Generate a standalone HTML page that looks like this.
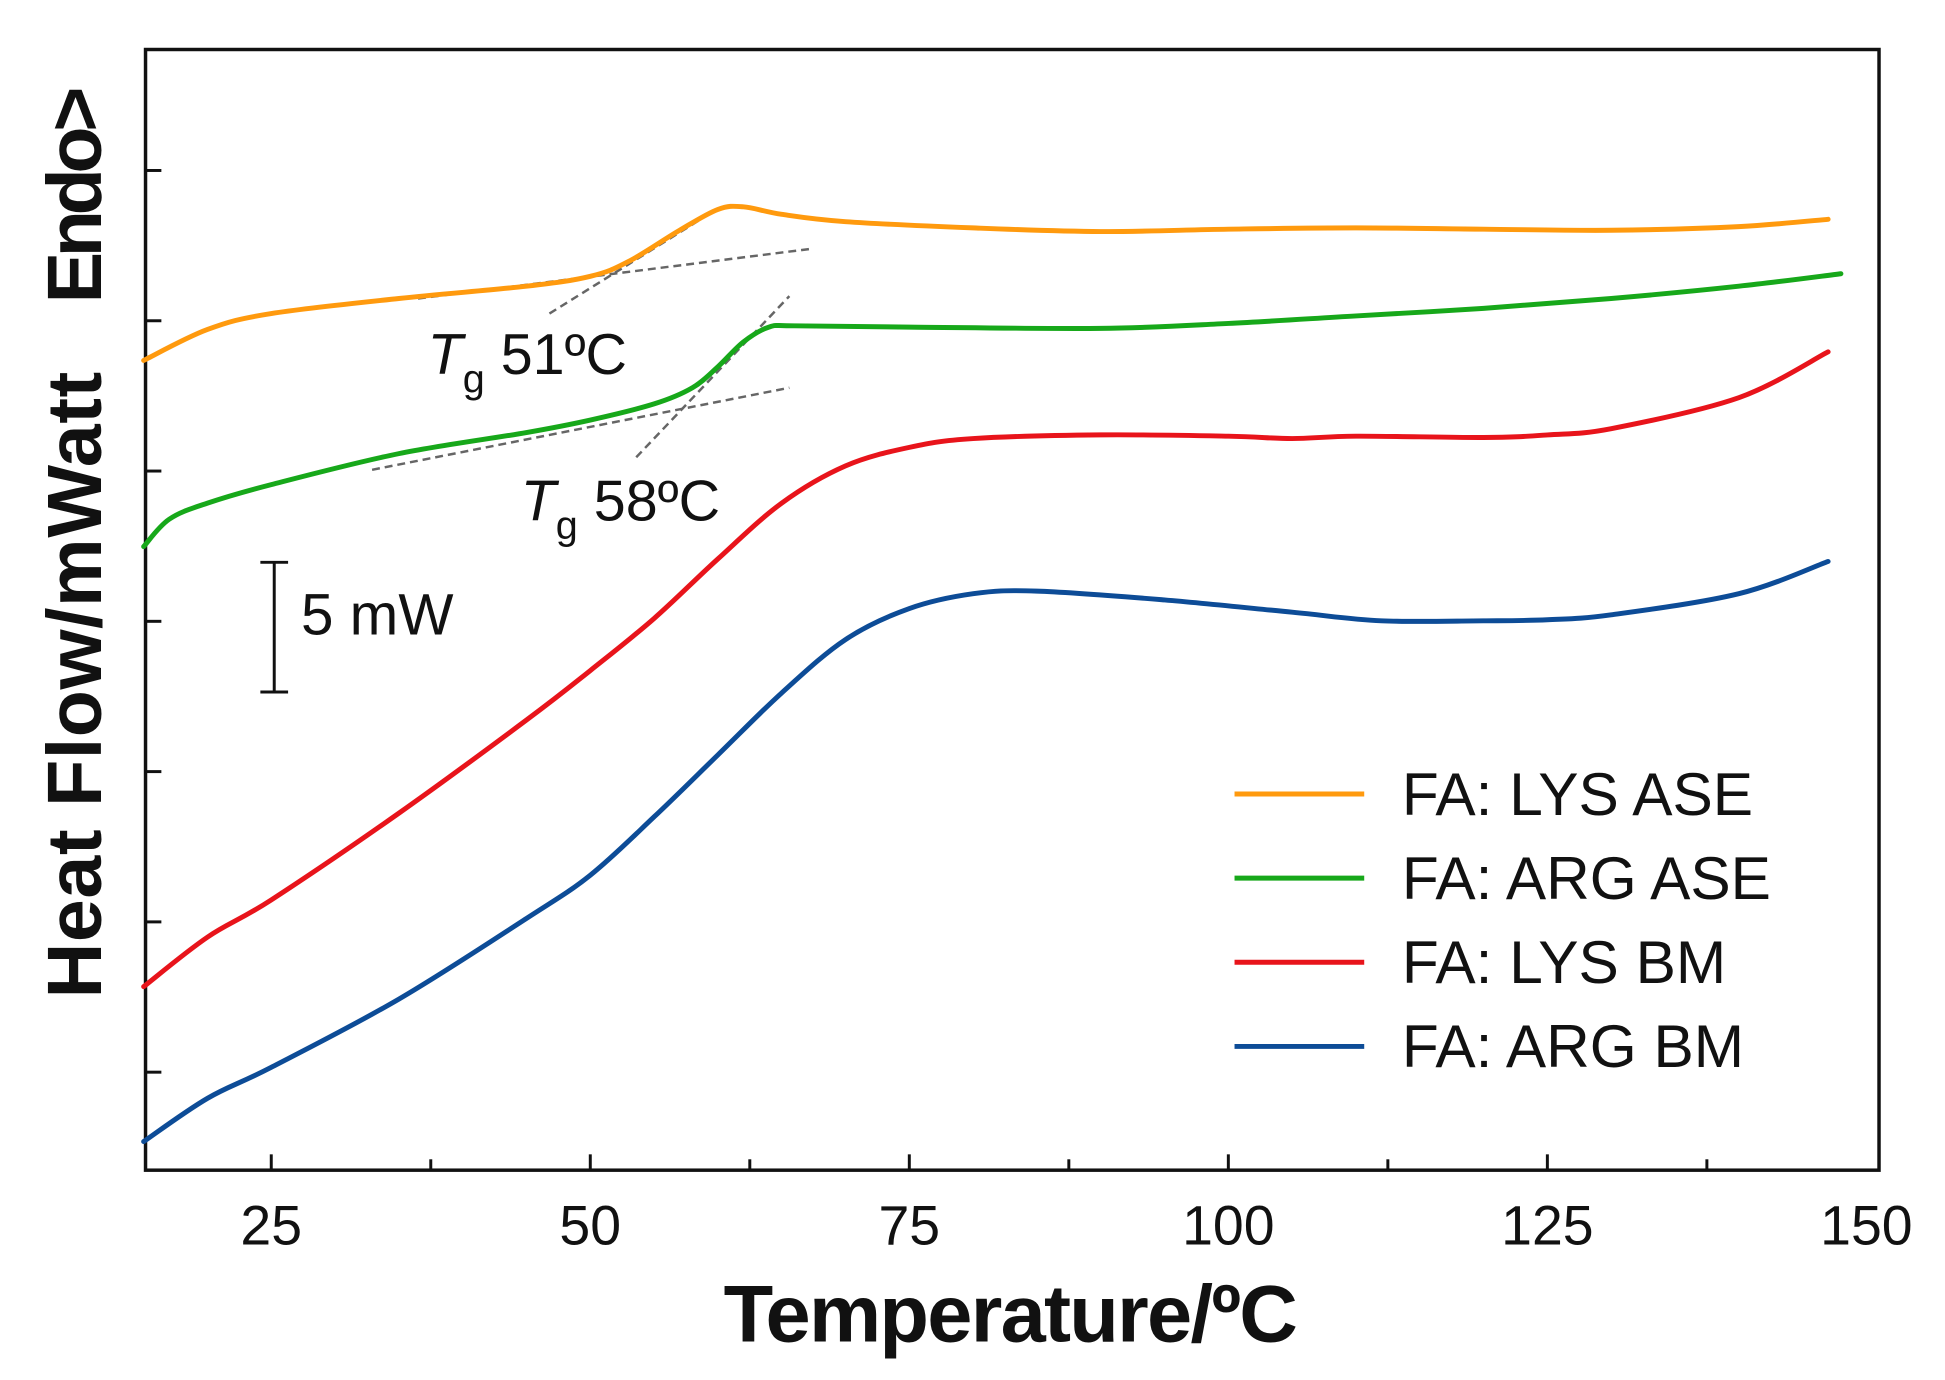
<!DOCTYPE html>
<html><head><meta charset="utf-8"><style>
html,body{margin:0;padding:0;background:#fff;}
svg{display:block;font-family:"Liberation Sans",Arial,sans-serif;}
</style></head><body>
<svg id="chart" width="1945" height="1380" viewBox="0 0 1945 1380"><g id="root" transform="scale(0.99)"></g></svg>
<script>
const xTicks = [25, 50, 75, 100, 125, 150];
const xMinorTicks = [37.5, 62.5, 87.5, 112.5, 137.5];
const seriesNames = ["FA: LYS ASE", "FA: ARG ASE", "FA: LYS BM", "FA: ARG BM"];
const seriesColors = ["#ff9a0e", "#17a81a", "#e8141b", "#0d4c97"];
const lysAseT = [15,20,25,35,45,50,53,57,60,62,65,70,80,90,100,110,120,130,140,147];
const lysAseV = [31.1,32.29,32.9,33.48,33.95,34.33,34.9,36.1,36.9,37.0,36.71,36.43,36.19,36.05,36.14,36.19,36.14,36.1,36.24,36.52];
const argAseT = [15,17,20,25,35,45,50,55,58,60,62,64,66,75,90,100,110,120,130,140,148];
const argAseV = [23.95,25.0,25.62,26.33,27.52,28.33,28.81,29.43,30.05,30.86,31.81,32.38,32.43,32.38,32.33,32.52,32.81,33.1,33.48,33.95,34.43];
const lysBmT = [15,20,25,35,45,50,55,60,65,70,75,80,90,100,105,110,120,125,130,140,147];
const lysBmV = [7.05,8.95,10.38,13.71,17.29,19.19,21.19,23.48,25.62,27.05,27.76,28.1,28.24,28.19,28.1,28.19,28.14,28.24,28.48,29.67,31.43];
const argBmT = [15,20,25,35,45,50,55,60,65,70,75,80,85,95,105,112,120,125,130,140,147];
const argBmV = [1.10,2.76,3.95,6.57,9.67,11.33,13.57,15.95,18.33,20.38,21.57,22.14,22.24,21.9,21.43,21.1,21.1,21.14,21.33,22.14,23.38];
const tangentT = [[36.5,67.2],[46.8,59.6],[32.9,65.6],[53.6,65.6]];
const tangentV = [[33.48,35.38],[32.9,36.81],[26.9,30.05],[27.38,33.57]];

const svg = document.getElementById('root');
const NS = 'http://www.w3.org/2000/svg';
const L = 147, R = 1898, T = 50, B = 1182;
function xs(t){ return 274 + (t - 25) * 12.89; }
function ys(v){ return B - v * 26.3; }
function mk(tag, attrs){ const e = document.createElementNS(NS, tag); for (const k in attrs) e.setAttribute(k, attrs[k]); svg.appendChild(e); return e; }
function smooth(pts){
  let d = 'M' + pts[0][0].toFixed(1) + ',' + pts[0][1].toFixed(1);
  for (let i = 0; i < pts.length - 1; i++) {
    const p0 = pts[i-1] || pts[i], p1 = pts[i], p2 = pts[i+1], p3 = pts[i+2] || p2;
    const c1 = [p1[0] + (p2[0]-p0[0])/6, p1[1] + (p2[1]-p0[1])/6];
    const c2 = [p2[0] - (p3[0]-p1[0])/6, p2[1] - (p3[1]-p1[1])/6];
    d += 'C' + c1[0].toFixed(1)+','+c1[1].toFixed(1)+' '+c2[0].toFixed(1)+','+c2[1].toFixed(1)+' '+p2[0].toFixed(1)+','+p2[1].toFixed(1);
  }
  return d;
}

let e = mk('rect', {x:L, y:T, width:R-L, height:B-T, fill:'none', stroke:'#111', 'stroke-width':3.5});



xTicks.forEach(t => {
  if (t < 150) {
    const tk = mk('line', {x1:xs(t), x2:xs(t), y1:B, y2:B-16, stroke:'#111', 'stroke-width':3});
    
    
  }
  const lb = mk('text', {x:xs(t), y:1257, 'font-size':56, 'text-anchor':'middle', fill:'#111'});
  lb.textContent = t;
  
  
});
xMinorTicks.forEach(t => {
  const tk = mk('line', {x1:xs(t), x2:xs(t), y1:B, y2:B-11, stroke:'#111', 'stroke-width':3});
  
  
});
for (let i = 0; i < 7; i++) {
  const y = 1083 - i * 151.8;
  const tk = mk('line', {x1:L, x2:L+16, y1:y, y2:y, stroke:'#111', 'stroke-width':3});
  
  
}

tangentT.forEach((tt, i) => {
  const ln = mk('line', {x1:xs(tt[0]), y1:ys(tangentV[i][0]), x2:xs(tt[1]), y2:ys(tangentV[i][1]), stroke:'#666', 'stroke-width':2.5, 'stroke-dasharray':'8,5'});
  
  
});

const allT = [lysAseT, argAseT, lysBmT, argBmT];
const allV = [lysAseV, argAseV, lysBmV, argBmV];
const slugs = ['lys-ase-curve', 'arg-ase-curve', 'lys-bm-curve', 'arg-bm-curve'];
allT.forEach((ts, s) => {
  const pts = ts.map((t, i) => [xs(t), ys(allV[s][i])]);
  const p = mk('path', {d:smooth(pts), fill:'none', stroke:seriesColors[s], 'stroke-width':5, 'stroke-linejoin':'round', 'stroke-linecap':'round'});
  
  
});

seriesNames.forEach((n, i) => {
  const y = 802 + i * 85;
  const ln = mk('line', {x1:1247, x2:1378, y1:y, y2:y, stroke:seriesColors[i], 'stroke-width':5});
  
  
  const tx = mk('text', {x:1416, y:y+21, 'font-size':61, fill:'#111'});
  tx.textContent = n;
  
  
});

const sb = mk('path', {d:'M277,568 V699 M263,568 H291 M263,699 H291', stroke:'#111', 'stroke-width':3, fill:'none'});


let st = mk('text', {x:304, y:641, 'font-size':59, fill:'#111'});
st.textContent = '5 mW';


</script>
<script>
(function(){
  const svg = document.getElementById('root');
  const NS = 'http://www.w3.org/2000/svg';
  function lbl(x, y, num, name){
    const t = document.createElementNS(NS, 'text');
    t.setAttribute('x', x); t.setAttribute('y', y);
    t.setAttribute('font-size', 58); t.setAttribute('fill', '#111');
    
    
    t.innerHTML = '<tspan font-style="italic">T</tspan><tspan font-size="40" dy="18">g</tspan><tspan dy="-18"> ' + num + 'ºC</tspan>';
    svg.appendChild(t);
  }
  lbl(432, 378, '51', 'tg-label-lys');
  lbl(526, 526, '58', 'tg-label-arg');
  const xt = document.createElementNS(NS, 'text');
  xt.setAttribute('x', 1021); xt.setAttribute('y', 1355);
  xt.setAttribute('font-size', 82); xt.setAttribute('font-weight', 'bold');
  xt.setAttribute('text-anchor', 'middle'); xt.setAttribute('fill', '#111');
  xt.setAttribute('textLength', 580);
  
  
  xt.textContent = 'Temperature/ºC';
  svg.appendChild(xt);
  function yt(text, cy, len, name){
    const t = document.createElementNS(NS, 'text');
    t.setAttribute('transform', 'translate(102,' + cy + ') rotate(-90)');
    t.setAttribute('font-size', 78); t.setAttribute('font-weight', 'bold');
    t.setAttribute('text-anchor', 'middle'); t.setAttribute('fill', '#111');
    t.setAttribute('textLength', len);
    
    
    t.textContent = text;
    svg.appendChild(t);
  }
  yt('Heat Flow/mWatt', 692, 633, 'y-axis-title');
  yt('Endo>', 197, 219, 'y-axis-endo-label');
})();
</script>
</body></html>
